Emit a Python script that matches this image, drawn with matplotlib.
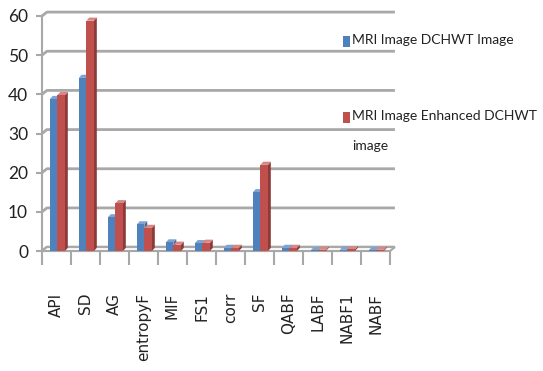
import matplotlib
matplotlib.use("Agg")
import matplotlib.pyplot as plt
from matplotlib.patches import Polygon, Rectangle

categories = ["API", "SD", "AG", "entropyF", "MIF", "FS1", "corr", "SF",
              "QABF", "LABF", "NABF1", "NABF"]
dchwt = [38.8, 44.2, 8.6, 6.8, 2.2, 2.0, 0.8, 15.0, 0.8, 0.2, 0.3, 0.2]
enhanced = [39.8, 58.8, 12.2, 5.9, 1.6, 2.1, 0.8, 22.0, 0.8, 0.3, 0.4, 0.3]
series_names = ["MRI Image DCHWT Image", "MRI Image Enhanced DCHWT\nimage"]
yticks = [0, 10, 20, 30, 40, 50, 60]

BLUE = ("#4F81BD", "#3A6396", "#7FA3D1")
RED = ("#C0504D", "#8E3A38", "#D88683")
GRID = "#A8A8A8"
NARROW = ["Lato", "DejaVu Sans"]

W, H = 543, 371
fig = plt.figure(figsize=(W / 100, H / 100), dpi=100)
ax = fig.add_axes([42 / W, 120 / H, 348 / W, 235 / H])
n = len(categories)
ax.set_xlim(-0.5, n - 0.5)
ax.set_ylim(0, 60)

# 3D depth of back wall and bars
gdx, gdy = 0.17, 1.0
bdx, bdy = 0.1, 0.8
width = 0.26


def bar3d(x0, h, cols):
    front, side, top = cols
    ax.add_patch(Polygon([(x0 + width, 0), (x0 + width + bdx, bdy),
                          (x0 + width + bdx, h + bdy), (x0 + width, h)],
                         closed=True, fc=side, ec="none", zorder=3))
    ax.add_patch(Polygon([(x0, h), (x0 + bdx, h + bdy),
                          (x0 + width + bdx, h + bdy), (x0 + width, h)],
                         closed=True, fc=top, ec="none", zorder=3))
    ax.add_patch(Rectangle((x0, 0), width, h, fc=front, ec="none", zorder=3))


# gridlines on back wall
for v in yticks:
    ax.plot([-0.5, -0.5 + gdx, n - 0.5 + gdx], [v, v + gdy, v + gdy],
            color=GRID, lw=2.0, zorder=1, clip_on=False,
            solid_capstyle="butt")
# floor
ax.add_patch(Polygon([(-0.5, 0), (-0.5 + gdx, gdy), (n - 0.5 + gdx, gdy),
                      (n - 0.5, 0)], closed=True, fc="white", ec=GRID,
                     lw=1.5, zorder=2, clip_on=False))

for i in range(n):
    bar3d(i - 0.23, dchwt[i], BLUE)
    bar3d(i + 0.03, enhanced[i], RED)

for s in ["top", "right"]:
    ax.spines[s].set_visible(False)
for s in ["left", "bottom"]:
    ax.spines[s].set_color(GRID)
    ax.spines[s].set_linewidth(1.5)

ax.set_yticks(yticks)
ax.set_yticklabels([str(v) for v in yticks], family=NARROW,
                   fontsize=12.5, color="#222222")
ax.tick_params(axis="y", length=4, color=GRID, width=1.5, pad=6)

ax.set_xticks([i - 0.5 for i in range(n + 1)])
ax.set_xticklabels([])
ax.tick_params(axis="x", which="major", length=10, color=GRID, width=1.5)
ax.set_xticks(list(range(n)), minor=True)
ax.set_xticklabels(categories, minor=True, rotation=90, fontsize=11,
                   family="DejaVu Sans", va="top", ha="center",
                   color="#222222")
ax.tick_params(axis="x", which="minor", length=0, pad=30)

# legend
for (y, name, col) in [(42, series_names[0], BLUE[0]),
                       (118, series_names[1], RED[0])]:
    fig.patches.append(Rectangle((343 / W, 1 - (y + 5) / H), 7 / W, 11 / H,
                                 fc=col, ec="none",
                                 transform=fig.transFigure, figure=fig))
    fig.text(352 / W, 1 - (y - 8) / H, name, family=NARROW, fontsize=10,
             va="top", ha="left", color="#222222", linespacing=2.85)

fig.savefig("out.png", dpi=100)
